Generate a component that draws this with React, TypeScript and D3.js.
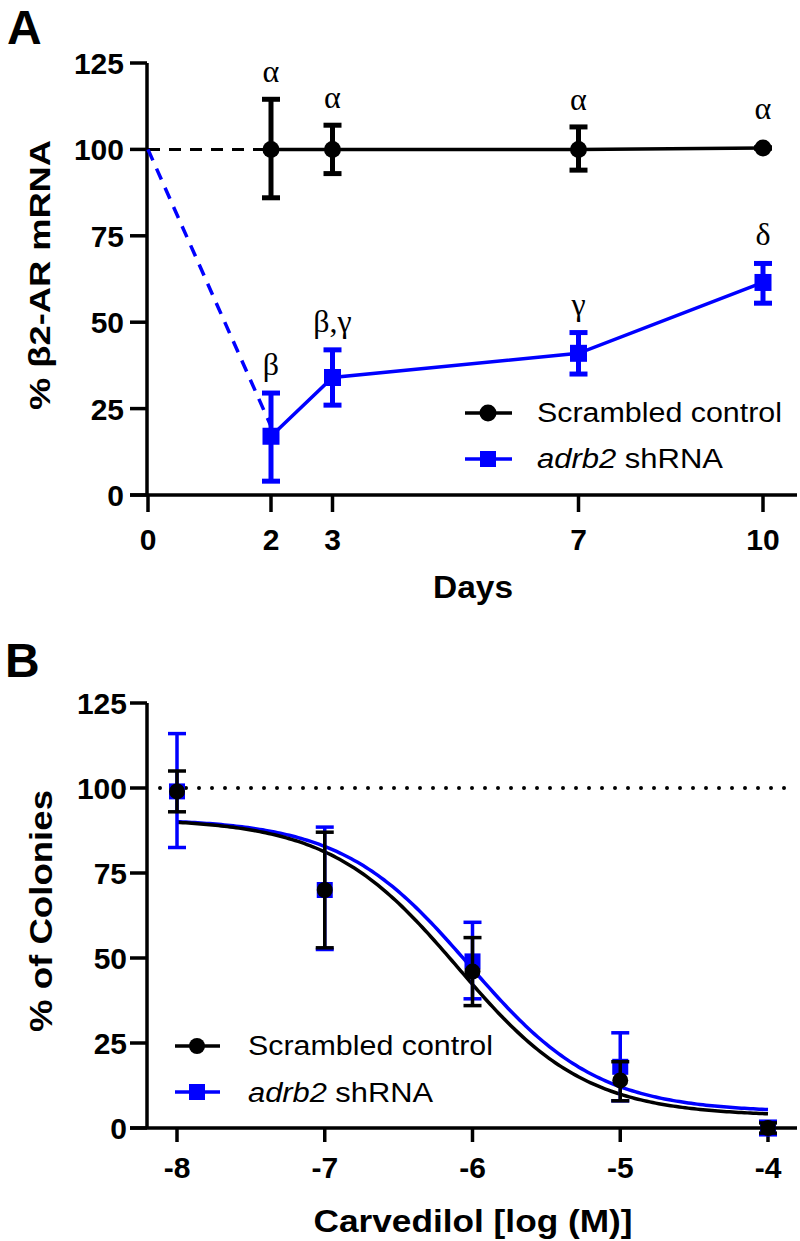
import React from 'react';
import * as d3 from 'd3';

// ---------- Panel A data ----------
const daysTicks = [0, 2, 3, 7, 10];
const yTicksA = [0, 25, 50, 75, 100, 125];
const days = [2, 3, 7, 10];
const scrMean = [100, 100, 100, 100.4];
const scrLo = [86, 93, 94, 100.4];
const scrHi = [114.5, 107, 106.5, 100.4];
const shMean = [17, 34, 41, 61.5];
const shLo = [4, 26, 35, 55.5];
const shHi = [29.5, 42, 47, 67];
const scrLabels = ['α', 'α', 'α', 'α'];
const shLabels = ['β', 'β,γ', 'γ', 'δ'];
const startDay = [0];
const startValue = [100];

// ---------- Panel B data ----------
const logDose = [-8, -7, -6, -5, -4];
const xTicksB = [-8, -7, -6, -5, -4];
const yTicksB = [0, 25, 50, 75, 100, 125];
const bScrMean = [99, 70, 46, 14, 0];
const bScrLo = [93, 53, 36, 8, -1.5];
const bScrHi = [105, 87, 56, 19.5, 1.5];
const bShMean = [99, 70, 49, 18, 0];
const bShLo = [82.5, 52.5, 38, 8, -2];
const bShHi = [116, 88.5, 60.5, 28, 2];
// fitted curve parameters: [top, bottom, logIC50, hill]
const fitScr = [91, 3.5, -6.1, 1];
const fitSh = [91, 4.6, -6.02, 1];
const refLine = [100];

const BLUE = '#0000ff';
const SANS = 'Liberation Sans, Arial, Helvetica, sans-serif';
const SERIF = 'Liberation Serif, Times New Roman, serif';

const xA = d3.scaleLinear().domain([0, 10]).range([148, 763]);
const yA = d3.scaleLinear().domain([0, 125]).range([495, 63]);
const xB = d3.scaleLinear().domain([-8, -4]).range([177, 768]);
const yB = d3.scaleLinear().domain([0, 125]).range([1128, 703]);

function logistic(p: number[], x: number) {
  const [top, bottom, ic, h] = p;
  return bottom + (top - bottom) / (1 + Math.pow(10, (x - ic) * h));
}

function ErrBar({ x, lo, hi, color, w, cap }: any) {
  return (
    <g stroke={color} strokeWidth={w}>
      <line x1={x} x2={x} y1={lo} y2={hi} />
      <line x1={x - cap / 2} x2={x + cap / 2} y1={lo} y2={lo} />
      <line x1={x - cap / 2} x2={x + cap / 2} y1={hi} y2={hi} />
    </g>
  );
}

export default function App() {
  const lineA = d3.line<number>().x((_, i) => xA(days[i])).y((d) => yA(d));
  const curveXs = d3.range(-8, -3.999, 0.02);
  const curve = (p: number[]) =>
    d3.line<number>().x((d) => xB(d)).y((d) => yB(logistic(p, d)))(curveXs) || '';

  return (
    <svg width={800} height={1241} style={{ position: 'absolute', left: 0, top: 0, background: '#fff' }}>
      <rect x={0} y={0} width={800} height={1241} fill="#fff" />
      {/* ================= Panel A ================= */}
      <text x={7} y={44} fontFamily={SANS} fontWeight="bold" fontSize={48}>A</text>

      {/* axes */}
      <g stroke="#000" strokeWidth={3.5} fill="none">
        <line x1={147} x2={147} y1={yA(125)} y2={yA(0)} />
        <line x1={130} x2={797} y1={yA(0)} y2={yA(0)} />
        {yTicksA.map((t) => (
          <line key={'ya' + t} x1={130} x2={147} y1={yA(t)} y2={yA(t)} />
        ))}
        {daysTicks.map((t) => (
          <line key={'xa' + t} x1={xA(t)} x2={xA(t)} y1={yA(0)} y2={yA(0) + 17} />
        ))}
      </g>
      {yTicksA.map((t) => (
        <text key={'yal' + t} x={124} y={yA(t) + 11} textAnchor="end" fontFamily={SANS} fontWeight="bold" fontSize={30}>{t}</text>
      ))}
      {daysTicks.map((t) => (
        <text key={'xal' + t} x={xA(t)} y={550} textAnchor="middle" fontFamily={SANS} fontWeight="bold" fontSize={30}>{t}</text>
      ))}
      <text x={473} y={598} textAnchor="middle" fontFamily={SANS} fontWeight="bold" fontSize={32} textLength={80} lengthAdjust="spacingAndGlyphs">Days</text>
      <text transform={`translate(50,275) rotate(-90)`} textAnchor="middle" fontFamily={SANS} fontWeight="bold" fontSize={30} textLength={270} lengthAdjust="spacingAndGlyphs">%  β2-AR mRNA</text>

      {/* dashed start segments */}
      <line x1={xA(startDay[0])} y1={yA(startValue[0])} x2={xA(days[0])} y2={yA(scrMean[0])} stroke="#000" strokeWidth={3} strokeDasharray="12 9" />
      <line x1={xA(startDay[0])} y1={yA(startValue[0])} x2={xA(days[0])} y2={yA(shMean[0]) - 10} stroke={BLUE} strokeWidth={3.5} strokeDasharray="12 9" />

      {/* lines */}
      <path d={lineA(scrMean) || ''} fill="none" stroke="#000" strokeWidth={3.5} />
      <path d={lineA(shMean) || ''} fill="none" stroke={BLUE} strokeWidth={3.5} />

      {/* error bars */}
      {days.map((d, i) => (
        <ErrBar key={'ea' + d} x={xA(d)} lo={yA(scrLo[i])} hi={yA(scrHi[i])} color="#000" w={5} cap={18} />
      ))}
      {days.map((d, i) => (
        <ErrBar key={'eb' + d} x={xA(d)} lo={yA(shLo[i])} hi={yA(shHi[i])} color={BLUE} w={5} cap={18} />
      ))}
      {/* markers */}
      {days.map((d, i) => (
        <circle key={'ma' + d} cx={xA(d)} cy={yA(scrMean[i])} r={8.5} fill="#000" />
      ))}
      {days.map((d, i) => (
        <rect key={'mb' + d} x={xA(d) - 8.5} y={yA(shMean[i]) - 8.5} width={17} height={17} fill={BLUE} />
      ))}
      {/* significance letters */}
      {days.map((d, i) => (
        <text key={'la' + d} x={xA(d)} y={(scrHi[i] === scrMean[i] ? yA(scrHi[i]) - 12 : yA(scrHi[i])) - 17} textAnchor="middle" fontFamily={SERIF} fontSize={32}>{scrLabels[i]}</text>
      ))}
      {days.map((d, i) => (
        <text key={'lb' + d} x={xA(d)} y={yA(shHi[i]) - 18} textAnchor="middle" fontFamily={SERIF} fontSize={32}>{shLabels[i]}</text>
      ))}

      {/* legend A */}
      <line x1={465} x2={512} y1={413} y2={413} stroke="#000" strokeWidth={3.5} />
      <circle cx={488} cy={413} r={8.5} fill="#000" />
      <text x={537} y={422} fontFamily={SANS} fontSize={27} textLength={245} lengthAdjust="spacingAndGlyphs">Scrambled control</text>
      <line x1={465} x2={512} y1={459} y2={459} stroke={BLUE} strokeWidth={3.5} />
      <rect x={480} y={451} width={16} height={16} fill={BLUE} />
      <text x={537} y={468} fontFamily={SANS} fontSize={27} textLength={186} lengthAdjust="spacingAndGlyphs">
        <tspan fontStyle="italic">adrb2</tspan> shRNA
      </text>

      {/* ================= Panel B ================= */}
      <text x={5} y={677} fontFamily={SANS} fontWeight="bold" fontSize={48}>B</text>
      <g stroke="#000" strokeWidth={3.5} fill="none">
        <line x1={147} x2={147} y1={yB(125)} y2={yB(0)} />
        <line x1={130} x2={797} y1={yB(0)} y2={yB(0)} />
        {yTicksB.map((t) => (
          <line key={'yb' + t} x1={130} x2={147} y1={yB(t)} y2={yB(t)} />
        ))}
        {xTicksB.map((t) => (
          <line key={'xb' + t} x1={xB(t)} x2={xB(t)} y1={yB(0)} y2={yB(0) + 14} />
        ))}
      </g>
      {yTicksB.map((t) => (
        <text key={'ybl' + t} x={127} y={yB(t) + 11} textAnchor="end" fontFamily={SANS} fontWeight="bold" fontSize={30}>{t}</text>
      ))}
      {xTicksB.map((t) => (
        <text key={'xbl' + t} x={xB(t)} y={1178} textAnchor="middle" fontFamily={SANS} fontWeight="bold" fontSize={30}>{String(t)}</text>
      ))}
      <text x={473} y={1232} textAnchor="middle" fontFamily={SANS} fontWeight="bold" fontSize={32} textLength={319} lengthAdjust="spacingAndGlyphs">Carvedilol [log (M)]</text>
      <text transform={`translate(52,911) rotate(-90)`} textAnchor="middle" fontFamily={SANS} fontWeight="bold" fontSize={32} textLength={242} lengthAdjust="spacingAndGlyphs">% of Colonies</text>

      {/* dotted reference */}
      <line x1={160} x2={797} y1={yB(refLine[0])} y2={yB(refLine[0])} stroke="#000" strokeWidth={4} strokeLinecap="round" strokeDasharray="0 13" />

      {/* curves */}
      <path d={curve(fitSh)} fill="none" stroke={BLUE} strokeWidth={3.5} />
      <path d={curve(fitScr)} fill="none" stroke="#000" strokeWidth={3.5} />

      {/* blue series */}
      {logDose.map((d, i) => (
        <ErrBar key={'ebb' + d} x={xB(d)} lo={yB(bShLo[i])} hi={yB(bShHi[i])} color={BLUE} w={3.5} cap={18} />
      ))}
      {logDose.map((d, i) => (
        <rect key={'mbb' + d} x={xB(d) - 8} y={yB(bShMean[i]) - 8} width={16} height={16} fill={BLUE} />
      ))}
      {/* black series */}
      {logDose.map((d, i) => (
        <ErrBar key={'eab' + d} x={xB(d)} lo={yB(bScrLo[i])} hi={yB(bScrHi[i])} color="#000" w={3.5} cap={18} />
      ))}
      {logDose.map((d, i) => (
        <circle key={'mab' + d} cx={xB(d)} cy={yB(bScrMean[i])} r={8} fill="#000" />
      ))}

      {/* legend B */}
      <line x1={175} x2={220} y1={1046} y2={1046} stroke="#000" strokeWidth={3.5} />
      <circle cx={197} cy={1046} r={8} fill="#000" />
      <text x={248} y={1055} fontFamily={SANS} fontSize={27} textLength={245} lengthAdjust="spacingAndGlyphs">Scrambled control</text>
      <line x1={175} x2={220} y1={1092} y2={1092} stroke={BLUE} strokeWidth={3.5} />
      <rect x={189} y={1084} width={16} height={16} fill={BLUE} />
      <text x={248} y={1102} fontFamily={SANS} fontSize={27} textLength={185} lengthAdjust="spacingAndGlyphs">
        <tspan fontStyle="italic">adrb2</tspan> shRNA
      </text>
    </svg>
  );
}
